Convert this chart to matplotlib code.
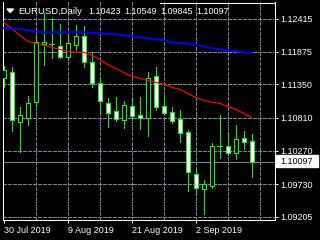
import numpy as np
import matplotlib
matplotlib.use('Agg')
import matplotlib.pyplot as plt
from matplotlib.patches import Polygon, Rectangle
from matplotlib.lines import Line2D

plt.rcParams['font.family'] = ['Liberation Sans', 'DejaVu Sans']

# EURUSD daily bars, 30 Jul 2019 .. 11 Sep 2019
opens = [1.11447, 1.11545, 1.10734, 1.10799, 1.11058, 1.11999, 1.11999, 1.11966,
         1.11788, 1.11982, 1.12128, 1.11707, 1.11366, 1.11042, 1.10912, 1.10767,
         1.10994, 1.10848, 1.10799, 1.11480, 1.10994, 1.10896, 1.10783, 1.10572,
         1.09891, 1.09648, 1.09697, 1.10345, 1.10345, 1.10232, 1.10475, 1.10423]
highs = [1.11642, 1.11626, 1.10977, 1.11156, 1.12128, 1.12501, 1.12420, 1.12323,
         1.12193, 1.12307, 1.12290, 1.11869, 1.11464, 1.11123, 1.11139, 1.11075,
         1.11123, 1.11139, 1.11545, 1.11626, 1.11156, 1.10977, 1.10929, 1.10604,
         1.09972, 1.09794, 1.10394, 1.10848, 1.10572, 1.10685, 1.10588, 1.10549]
lows = [1.11302, 1.10588, 1.10248, 1.10685, 1.10994, 1.11658, 1.11772, 1.11772,
        1.11755, 1.11901, 1.11626, 1.11302, 1.10880, 1.10653, 1.10750, 1.10637,
        1.10783, 1.10621, 1.10507, 1.10929, 1.10864, 1.10718, 1.10410, 1.09616,
        1.09551, 1.09243, 1.09664, 1.10151, 1.10199, 1.10134, 1.10296, 1.09845]
closes = [1.11577, 1.10767, 1.10848, 1.11042, 1.12031, 1.12031, 1.11995, 1.11788,
          1.12015, 1.12128, 1.11707, 1.11366, 1.11075, 1.10880, 1.10783, 1.11010,
          1.10831, 1.10799, 1.11447, 1.10977, 1.10880, 1.10750, 1.10556, 1.09924,
          1.09664, 1.09729, 1.10345, 1.10350, 1.10232, 1.10459, 1.10410, 1.10097]

ma_red = [1.12355, 1.12258, 1.12145, 1.12047, 1.12015, 1.11982, 1.11950, 1.11918,
          1.11885, 1.11869, 1.11869, 1.11820, 1.11755, 1.11674, 1.11610, 1.11545,
          1.11480, 1.11447, 1.11415, 1.11383, 1.11350, 1.11302, 1.11269, 1.11204,
          1.11139, 1.11091, 1.11058, 1.11042, 1.10994, 1.10945, 1.10880, 1.10815]
ma_blue = [1.12258, 1.12250, 1.12242, 1.12226, 1.12209, 1.12193, 1.12193, 1.12193,
           1.12193, 1.12193, 1.12193, 1.12185, 1.12177, 1.12169, 1.12161, 1.12145,
           1.12128, 1.12112, 1.12096, 1.12080, 1.12064, 1.12031, 1.12023, 1.12007,
           1.11991, 1.11966, 1.11934, 1.11918, 1.11901, 1.11885, 1.11869, 1.11853]

price_ticks = [1.12415, 1.11875, 1.11350, 1.10810, 1.10270, 1.09730, 1.09205]
price_labels = ['1.12415', '1.11875', '1.11350', '1.10810', '1.10270', '1.09730', '1.09205']
date_ticks = [0, 8, 16, 24]
date_labels = ['30 Jul 2019', '9 Aug 2019', '21 Aug 2019', '2 Sep 2019']
last_price = 1.10097
header_name = 'EURUSD,Daily'
header_ohlc = ['1.10423', '1.10549', '1.09845', '1.10097']

GREEN = '#00ff00'
GRID = '#778899'
W, H = 320, 240
L, R, T, B = 2.5, 274.5, 2.0, 219.5
FS = 6.5

fig = plt.figure(figsize=(W / 100, H / 100), dpi=100, facecolor='black')
ax = fig.add_axes([L / W, 1 - B / H, (R - L) / W, (B - T) / H], facecolor='black')

o = np.array(opens); h = np.array(highs); l = np.array(lows); c = np.array(closes)
x = np.arange(len(o))

# grid + bid line
for p in price_ticks:
    ax.axhline(p, color=GRID, lw=0.72, ls=(0, (3, 2)), zorder=1, antialiased=False)
for gx in range(4, 33, 4):
    ax.axvline(gx, color=GRID, lw=0.72, ls=(0, (3, 2)), zorder=1, antialiased=False)
ax.axhline(last_price, color=GRID, lw=0.72, zorder=1.5, antialiased=False)

# candles
ax.vlines(x, l, h, color=GREEN, lw=0.72, zorder=2, antialiased=False)
doji = np.abs(c - o) < 0.00006
bull = (c > o) & ~doji
bear = (c < o) & ~doji
ax.bar(x[bull], (c - o)[bull], bottom=o[bull], width=0.5, color='black',
       edgecolor=GREEN, linewidth=0.72, zorder=3, antialiased=False)
ax.bar(x[bear], (o - c)[bear], bottom=c[bear], width=0.5, color='white',
       edgecolor=GREEN, linewidth=0.72, zorder=3, antialiased=False)
ax.hlines(o[doji], x[doji] - 0.3, x[doji] + 0.3, color=GREEN, lw=0.72, zorder=3,
          antialiased=False)

# moving averages
ax.plot(x, ma_red, color='#ff0000', lw=0.9, zorder=4)
ax.plot(x, ma_blue, color='#0000ff', lw=1.4, zorder=4)

ax.set_xlim((L - 3.5) / 8, (R - 3.5) / 8)
ax.set_ylim(1.09158, 1.12684)

for s in ['left', 'bottom', 'right']:
    ax.spines[s].set_color('white')
    ax.spines[s].set_linewidth(0.72)
ax.spines['top'].set_visible(False)
fig.add_artist(Line2D([160 / W, R / W], [1 - 2.5 / H, 1 - 2.5 / H],
                      color='white', lw=0.72, transform=fig.transFigure))

ax.yaxis.tick_right()
ax.set_yticks(price_ticks)
ax.set_yticklabels(price_labels)
ax.set_xticks(date_ticks)
ax.set_xticklabels(date_labels)
for lab in ax.get_xticklabels():
    lab.set_ha('left')
ax.tick_params(axis='y', direction='out', length=2.5, width=0.72, colors='white',
               pad=1.5, labelsize=FS)
ax.tick_params(axis='x', direction='out', length=2.5, width=0.72, colors='white',
               pad=2.0, labelsize=FS)

# header
fig.add_artist(Polygon([[7 / W, 1 - 9 / H], [13.5 / W, 1 - 9 / H], [10.25 / W, 1 - 12.5 / H]],
                       closed=True, color='white', transform=fig.transFigure))
fig.text(18 / W, 1 - 14 / H, header_name, color='white', fontsize=FS + 0.3, va='baseline')
for px, s in zip([88, 124, 160, 196], header_ohlc):
    fig.text(px / W, 1 - 14 / H, s, color='white', fontsize=FS, va='baseline')

# current price tag
fig.add_artist(Rectangle((276 / W, 1 - 167 / H), 42 / W, 12 / H, color='white',
                         transform=fig.transFigure))
fig.text(280 / W, 1 - 161 / H, '%.5f' % last_price, color='black', fontsize=FS,
         va='center')

fig.savefig('out.png', dpi=100, facecolor='black')
